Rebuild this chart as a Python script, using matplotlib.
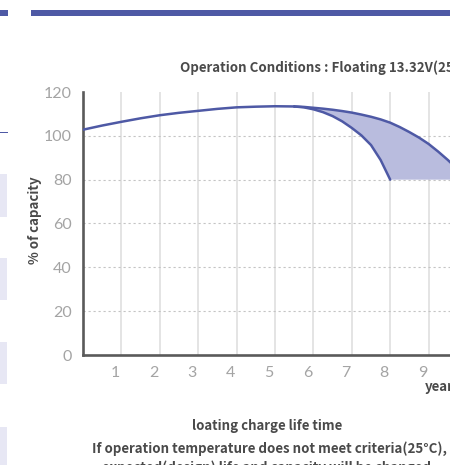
import matplotlib
matplotlib.use("Agg")
import matplotlib.pyplot as plt
import matplotlib.transforms as mtransforms
from matplotlib.patches import Rectangle
import numpy as np

# ---- data ----
main_years = [0, 0.5, 1, 1.5, 2, 2.5, 3, 3.5, 4, 4.5, 5, 5.5]
main_pct = [102.8, 104.7, 106.4, 108.0, 109.4, 110.5, 111.4, 112.3, 113.0, 113.3, 113.5, 113.4]
upper_years = [5.5, 5.75, 6, 6.25, 6.5, 6.75, 7, 7.25, 7.5, 7.75, 8, 8.25, 8.5, 8.75, 9, 9.25, 9.5, 9.75, 10]
upper_pct = [113.4, 113.2, 112.8, 112.4, 111.9, 111.3, 110.6, 109.7, 108.7, 107.5, 106.0, 104.0, 101.7, 99.2, 96.3, 92.8, 89.0, 84.8, 80.0]
lower_years = [5.5, 5.75, 6, 6.25, 6.5, 6.75, 7, 7.25, 7.5, 7.75, 8]
lower_pct = [113.4, 113.0, 112.1, 110.8, 109.0, 106.6, 103.6, 100.2, 95.8, 89.0, 80.0]
x_ticks = [1, 2, 3, 4, 5, 6, 7, 8, 9, 10, 11]
x_tick_labels = ["1", "2", "3", "4", "5", "6", "7", "8", "9", "10", "11"]
y_ticks = [0, 20, 40, 60, 80, 100, 120]
y_tick_labels = ["0", "20", "40", "60", "80", "100", "120"]

W, H = 450, 465
fig = plt.figure(figsize=(W / 100, H / 100), dpi=100)

def px_rect(x0, y0, x1, y1, color):
    fig.add_artist(Rectangle((x0 / W, 1 - y1 / H), (x1 - x0) / W, (y1 - y0) / H,
                             transform=fig.transFigure, color=color, lw=0, zorder=0))

BLUE = "#4e59a5"
# page decoration
px_rect(31, 10, 450, 16, BLUE)
px_rect(0, 10, 8, 16, BLUE)
px_rect(0, 131.5, 8, 132.7, BLUE)
for (a, b) in [(174, 217), (258, 300), (342, 384), (427, 470)]:
    px_rect(0, a, 7, b, "#e7e7f4")

# axes
left_px, top_px, bottom_px = 83, 92, 355
px_per_year = 38.4
xmax = 12
ax = fig.add_axes([left_px / W, 1 - bottom_px / H, xmax * px_per_year / W, (bottom_px - top_px) / H])
ax.set_xlim(0, xmax)
ax.set_ylim(0, 120)
ax.patch.set_alpha(0)

for s in ["top", "right"]:
    ax.spines[s].set_visible(False)
for s in ["left", "bottom"]:
    ax.spines[s].set_color("#5a5a5a")
    ax.spines[s].set_linewidth(1.9)

for xv in x_ticks:
    ax.axvline(xv, color="#dcdcdc", lw=1.1, zorder=1)
for yv in y_ticks[1:-1]:
    ax.axhline(yv, color="#c4c4c4", lw=0.8, ls=(0, (2, 2.5)), zorder=1)

# fill between branches, bounded at 80 %
fx = list(upper_years) + list(lower_years[::-1])
fy = list(upper_pct) + list(lower_pct[::-1])
ax.fill(fx, fy, color="#b9bcde", lw=0, zorder=2)

for xs, ys in [(main_years, main_pct), (upper_years, upper_pct), (lower_years, lower_pct)]:
    ax.plot(xs, ys, color=BLUE, lw=1.8, zorder=3, solid_capstyle="round", solid_joinstyle="round")

tick_font = dict(family=["Lato", "DejaVu Sans"], weight="normal", size=11.5, color="#a4a4a4")
ax.set_xticks(x_ticks)
ax.set_xticklabels(x_tick_labels, **tick_font)
ax.set_yticks(y_ticks)
ax.set_yticklabels(y_tick_labels, **tick_font)
ax.tick_params(axis="both", length=0)
ax.tick_params(axis="x", pad=8)
ax.tick_params(axis="y", pad=8)
off = mtransforms.ScaledTranslation(-6 / 100, 0, fig.dpi_scale_trans)
for lab in ax.get_xticklabels():
    lab.set_transform(lab.get_transform() + off)

bold = dict(family=["Noto Sans CJK KR", "DejaVu Sans"], weight="bold", color="#4a4a4a")

ax.set_ylabel("% of capacity", fontsize=9.6, labelpad=0, va="center", ha="center", **bold)
ax.yaxis.set_label_coords(35 / W, 1 - 220 / H, transform=fig.transFigure)

fig.text(180 / W, 1 - 68 / H, "Operation Conditions : Floating 13.32V(25°C)",
         ha="left", va="center", fontsize=9.6, **bold)
fig.text(425 / W, 1 - 387 / H, "years", ha="left", va="center", fontsize=9.6, **bold)
fig.text(267 / W, 1 - 426 / H, "loating charge life time", ha="center", va="center",
         fontsize=9.5, **bold)
fig.text(269 / W, 1 - 449 / H, "If operation temperature does not meet criteria(25°C),",
         ha="center", va="center", fontsize=9.6, **bold)
fig.text(269 / W, 1 - 468 / H, "expected(design) life and capacity will be changed.",
         ha="center", va="center", fontsize=9.6, **bold)

fig.savefig("out.png", dpi=100)
